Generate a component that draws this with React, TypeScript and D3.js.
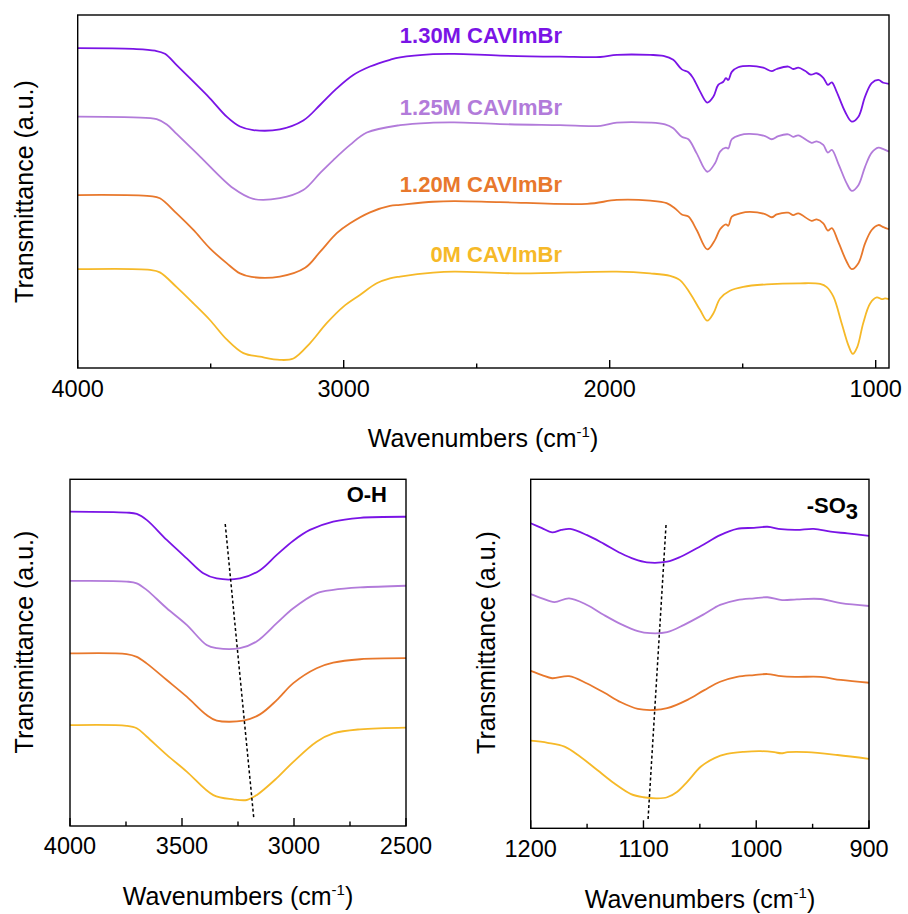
import React from 'react';
import * as d3 from 'd3';

type Pt = [number, number];

const SERIES = ['1.30M CAVImBr', '1.25M CAVImBr', '1.20M CAVImBr', '0M CAVImBr'];
const COLORS = ['#7A14E6', '#B27BDA', '#E8782C', '#F6B928'];

// Full spectra (wavenumber, transmittance a.u. stacked)
const FULL_130: Pt[] = [[4000,90.6],[3791,90.4],[3709,89.9],[3672,89.0],[3628,85.8],[3565,81.1],[3503,76.4],[3440,71.2],[3390,68.4],[3340,67.4],[3240,67.6],[3152,70.1],[3089,74.5],[3026,79.2],[2964,83.0],[2901,85.4],[2826,87.3],[2788,88.0],[2664,88.9],[2585,89.0],[2412,88.5],[2187,88.2],[2036,88.1],[1973,88.7],[1848,88.7],[1798,88.4],[1761,87.3],[1729,84.6],[1704,83.8],[1686,82.1],[1660,78.3],[1633,75.2],[1610,76.9],[1592,80.2],[1573,81.1],[1563,82.1],[1554,81.6],[1541,83.9],[1517,85.2],[1473,85.6],[1423,85.1],[1391,84.1],[1372,84.7],[1329,85.4],[1310,84.7],[1291,85.1],[1266,84.2],[1244,83.1],[1222,83.5],[1197,82.2],[1180,80.2],[1165,80.9],[1147,78.3],[1115,72.6],[1090,69.8],[1065,71.2],[1040,76.9],[1015,80.7],[990,81.6],[971,80.8],[950,80.5]];
const FULL_125: Pt[] = [[4000,71.2],[3791,71.0],[3703,70.5],[3665,69.0],[3628,66.3],[3540,59.9],[3415,50.9],[3340,47.9],[3240,48.1],[3152,50.4],[3089,55.2],[3039,58.9],[2976,63.2],[2913,66.7],[2788,68.8],[2663,69.5],[2585,69.6],[2412,69.1],[2187,68.8],[2034,68.6],[1973,69.5],[1848,69.5],[1792,69.0],[1761,67.9],[1729,65.5],[1704,64.8],[1673,60.8],[1633,55.6],[1604,58.0],[1585,61.3],[1563,62.4],[1554,62.2],[1541,64.8],[1510,66.0],[1473,66.3],[1416,65.7],[1391,64.8],[1366,65.7],[1329,66.2],[1310,65.5],[1291,65.9],[1241,63.8],[1222,64.2],[1197,63.2],[1180,61.0],[1165,61.8],[1141,58.0],[1109,52.3],[1090,50.2],[1065,51.8],[1040,57.0],[1015,61.0],[990,62.4],[971,62.0],[950,61.3]];
const FULL_120: Pt[] = [[4000,49.0],[3728,48.7],[3691,48.1],[3628,43.8],[3565,39.1],[3503,33.9],[3440,29.7],[3390,26.8],[3346,25.8],[3240,25.9],[3145,28.4],[3089,32.9],[3026,38.2],[2976,41.0],[2901,44.1],[2826,45.9],[2788,46.2],[2664,47.1],[2585,47.3],[2412,47.0],[2085,46.5],[1973,47.6],[1848,47.4],[1786,46.7],[1754,45.2],[1729,43.5],[1704,42.9],[1673,39.1],[1633,33.6],[1604,36.3],[1585,39.3],[1563,40.7],[1554,40.3],[1541,42.9],[1510,43.8],[1473,44.2],[1416,43.6],[1391,42.7],[1372,43.5],[1329,44.0],[1310,43.3],[1291,43.8],[1241,41.7],[1222,42.1],[1197,41.0],[1180,38.9],[1165,39.6],[1141,35.8],[1109,30.1],[1090,28.0],[1065,29.7],[1040,35.3],[1015,39.1],[990,40.5],[971,39.9],[950,39.3]];
const FULL_0: Pt[] = [[4000,28.0],[3728,27.8],[3691,27.1],[3628,22.9],[3565,18.3],[3503,13.6],[3440,8.1],[3377,4.2],[3315,3.2],[3240,2.3],[3189,2.7],[3127,7.0],[3064,12.7],[3001,17.4],[2939,20.7],[2876,24.0],[2826,25.4],[2788,25.9],[2664,27.0],[2585,27.3],[2335,26.8],[1973,27.3],[1848,26.8],[1773,26.1],[1736,24.9],[1698,21.2],[1660,16.4],[1633,13.4],[1610,15.5],[1585,19.7],[1548,21.9],[1498,23.0],[1410,23.7],[1285,24.0],[1209,23.8],[1184,22.9],[1159,20.2],[1128,12.7],[1103,6.5],[1086,4.0],[1069,6.0],[1047,12.7],[1021,18.3],[996,20.0],[977,19.5],[965,19.7],[950,19.5]];

// O-H region
const OH_130: Pt[] = [[4000,90.7],[3747,90.4],[3702,90.0],[3658,88.3],[3568,82.5],[3479,77.2],[3405,72.9],[3345,71.4],[3241,71.4],[3152,73.8],[3077,78.2],[3003,82.3],[2929,85.4],[2825,87.8],[2705,88.9],[2500,89.2]];
const OH_125: Pt[] = [[4000,70.7],[3747,70.5],[3702,70.0],[3658,68.1],[3568,62.8],[3479,58.0],[3390,52.2],[3345,51.3],[3241,51.3],[3167,53.2],[3077,58.5],[3003,62.8],[2899,67.1],[2825,68.1],[2705,68.8],[2500,69.3]];
const OH_120: Pt[] = [[4000,49.8],[3747,49.6],[3702,48.8],[3658,46.9],[3568,42.1],[3479,37.3],[3390,32.0],[3345,30.4],[3226,30.4],[3152,32.2],[3077,36.3],[3003,41.2],[2899,45.5],[2825,47.1],[2705,48.1],[2500,48.4]];
const OH_0: Pt[] = [[4000,29.1],[3747,28.9],[3702,28.2],[3658,25.8],[3568,20.5],[3479,15.7],[3360,8.9],[3271,7.7],[3211,7.5],[3167,8.9],[3077,13.8],[3003,18.5],[2899,24.3],[2825,26.7],[2705,27.9],[2500,28.4]];
const OH_SHIFT: Pt[] = [[3307,87.1],[3179,1.9]];

// -SO3 region
const SO_130: Pt[] = [[1200,87.4],[1190,86.0],[1181,84.8],[1173,85.5],[1165,85.8],[1150,84.0],[1135,81.5],[1120,78.8],[1108,77.1],[1097,76.2],[1079,76.4],[1067,77.8],[1049,80.9],[1032,84.0],[1017,85.8],[1002,86.1],[990,86.4],[978,85.7],[964,85.5],[949,85.8],[934,85.0],[919,84.5],[900,83.8]];
const SO_125: Pt[] = [[1200,67.1],[1190,65.9],[1179,64.8],[1166,65.9],[1150,64.0],[1135,61.1],[1120,58.5],[1105,56.5],[1094,55.9],[1079,56.2],[1064,58.3],[1046,61.4],[1032,64.0],[1017,65.4],[1002,65.9],[990,66.2],[977,65.4],[964,65.6],[943,65.7],[925,64.5],[900,63.7]];
const SO_120: Pt[] = [[1200,45.1],[1190,43.9],[1181,43.0],[1166,43.6],[1150,41.5],[1135,38.9],[1120,36.1],[1105,34.2],[1091,33.9],[1079,34.4],[1061,36.8],[1046,39.6],[1032,42.0],[1017,43.4],[1002,43.9],[990,44.2],[978,43.6],[964,43.4],[943,43.4],[925,42.5],[900,41.7]];
const SO_0: Pt[] = [[1200,25.1],[1185,24.5],[1170,23.4],[1156,20.5],[1141,16.7],[1126,12.9],[1111,9.8],[1100,8.9],[1088,8.6],[1079,8.9],[1070,10.5],[1061,13.4],[1049,17.7],[1037,20.1],[1026,21.3],[1011,21.9],[996,22.1],[984,21.8],[978,21.5],[972,21.8],[955,21.8],[928,21.0],[900,19.9]];
const SO_SHIFT: Pt[] = [[1080,86.9],[1096,2.2]];

const TOP_MAJOR = [4000, 3000, 2000, 1000];
const TOP_MINOR = [3500, 2500, 1500];
const OH_MAJOR = [4000, 3500, 3000, 2500];
const OH_MINOR = [3750, 3250, 2750];
const SO_MAJOR = [1200, 1100, 1000, 900];
const SO_MINOR = [1150, 1050, 950];

const FONT = 'Liberation Sans, Arial, Helvetica, sans-serif';

interface PanelProps {
  left: number; right: number; top: number; bottom: number;
  domain: [number, number];
  series: Pt[][];
  major: number[]; minor: number[];
  tickY: number; titleX: number; titleY: number;
  yTitleX: number; yTitleY: number;
  shift?: Pt[];
  children?: React.ReactNode;
}

function Panel(p: PanelProps) {
  const x = d3.scaleLinear().domain(p.domain).range([p.left, p.right]);
  const y = d3.scaleLinear().domain([0, 100]).range([p.bottom, p.top]);
  const line = d3.line<Pt>().x(d => x(d[0])).y(d => y(d[1])).curve(d3.curveCatmullRom.alpha(0.5));
  const straight = d3.line<Pt>().x(d => x(d[0])).y(d => y(d[1]));
  return (
    <g>
      {p.series.map((s, i) => (
        <path key={i} d={line(s) || ''} fill="none" stroke={COLORS[i]} strokeWidth={1.8} strokeLinejoin="round" />
      ))}
      {p.shift && (
        <path d={straight(p.shift) || ''} fill="none" stroke="#000" strokeWidth={1.5} strokeDasharray="3,2.5" />
      )}
      <rect x={p.left} y={p.top} width={p.right - p.left} height={p.bottom - p.top} fill="none" stroke="#000" strokeWidth={1.4} />
      {p.major.map(t => (
        <line key={'M' + t} x1={x(t)} x2={x(t)} y1={p.bottom} y2={p.bottom - 8} stroke="#000" strokeWidth={1.4} />
      ))}
      {p.minor.map(t => (
        <line key={'m' + t} x1={x(t)} x2={x(t)} y1={p.bottom} y2={p.bottom - 4.5} stroke="#000" strokeWidth={1.4} />
      ))}
      {p.major.map(t => (
        <text key={'L' + t} x={x(t)} y={p.tickY} textAnchor="middle" fontSize={23.5} fontFamily={FONT} fill="#000">{t}</text>
      ))}
      <text x={p.titleX} y={p.titleY} textAnchor="middle" fontSize={25} fontFamily={FONT} fill="#000">
        <tspan>Wavenumbers (cm</tspan>
        <tspan dy={-10} fontSize={15}>-1</tspan>
        <tspan dy={10}>)</tspan>
      </text>
      <text transform={`translate(${p.yTitleX},${p.yTitleY}) rotate(-90)`} textAnchor="middle" fontSize={25} fontFamily={FONT} fill="#000">
        Transmittance (a.u.)
      </text>
      {p.children}
    </g>
  );
}

const LABEL_Y = [43, 115, 192, 262];

export default function App() {
  return (
    <svg width={908} height={914} style={{ position: 'absolute', left: 0, top: 0, background: '#fff' }}>
      <rect x={0} y={0} width={908} height={914} fill="#fff" />
      <Panel left={77.7} right={889} top={15} bottom={368} domain={[4000, 950]}
        series={[FULL_130, FULL_125, FULL_120, FULL_0]}
        major={TOP_MAJOR} minor={TOP_MINOR} tickY={397} titleX={483} titleY={447}
        yTitleX={33} yTitleY={191.5}>
        {SERIES.map((s, i) => (
          <text key={s} x={562} y={LABEL_Y[i]} textAnchor="end" fontSize={22} fontWeight="bold" fontFamily={FONT} fill={COLORS[i]}>{s}</text>
        ))}
      </Panel>
      <Panel left={70} right={406} top={479.3} bottom={826} domain={[4000, 2500]}
        series={[OH_130, OH_125, OH_120, OH_0]} shift={OH_SHIFT}
        major={OH_MAJOR} minor={OH_MINOR} tickY={854} titleX={238} titleY={905}
        yTitleX={33} yTitleY={642}>
        <text x={387} y={501.7} textAnchor="end" fontSize={22} fontWeight="bold" fontFamily={FONT} fill="#000">O-H</text>
      </Panel>
      <Panel left={530.7} right={869} top={479.3} bottom={828.3} domain={[1200, 900]}
        series={[SO_130, SO_125, SO_120, SO_0]} shift={SO_SHIFT}
        major={SO_MAJOR} minor={SO_MINOR} tickY={857} titleX={700} titleY={908}
        yTitleX={495} yTitleY={642.5}>
        <text x={858} y={512.7} textAnchor="end" fontSize={22} fontWeight="bold" fontFamily={FONT} fill="#000">
          <tspan>-SO</tspan>
          <tspan dy={6}>3</tspan>
        </text>
      </Panel>
    </svg>
  );
}
